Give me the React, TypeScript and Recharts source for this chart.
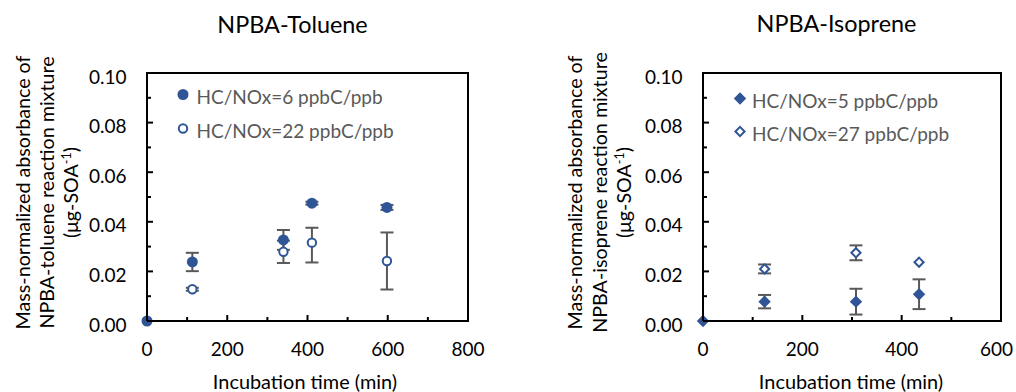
import React from 'react';
import { ScatterChart, Scatter, XAxis, YAxis, ErrorBar, ReferenceArea, Legend } from 'recharts';

const FONT = 'Lato, "Open Sans", sans-serif';
const BLUE = '#2F5597';
const GRAY = '#595959';

// ---- Data ----
// NPBA-Toluene, HC/NOx = 6 ppbC/ppb (filled circles)
const tolTime6 = [0, 113, 340, 411, 598];
const tolAbs6 = [0, 0.0238, 0.0327, 0.0475, 0.0458];
const tolErr6: (number | number[] | null)[] = [null, 0.0037, 0.004, 0.0006, 0.001];
// NPBA-Toluene, HC/NOx = 22 ppbC/ppb (open circles)
const tolTime22 = [113, 340, 411, 598];
const tolAbs22 = [0.0128, 0.0279, 0.0316, 0.0242];
const tolErr22: (number | number[] | null)[] = [0.0006, 0.0045, [0.008, 0.006], 0.0115];
// NPBA-Isoprene, HC/NOx = 5 ppbC/ppb (filled diamonds)
const isoTime5 = [0, 124, 308, 435];
const isoAbs5 = [0, 0.0078, 0.0078, 0.0108];
const isoErr5: (number | number[] | null)[] = [null, 0.0027, 0.0052, 0.006];
// NPBA-Isoprene, HC/NOx = 27 ppbC/ppb (open diamonds)
const isoTime27 = [124, 308, 435];
const isoAbs27 = [0.021, 0.0275, 0.0237];
const isoErr27: (number | number[] | null)[] = [0.0018, 0.003, null];

const tolXTicks = [0, 100, 200, 300, 400, 500, 600, 700, 800];
const isoXTicks = [0, 100, 200, 300, 400, 500, 600];
const yTicks = [0, 0.01, 0.02, 0.03, 0.04, 0.05, 0.06, 0.07, 0.08, 0.09, 0.1];

const tolName6 = 'HC/NOx=6 ppbC/ppb';
const tolName22 = 'HC/NOx=22 ppbC/ppb';
const isoName5 = 'HC/NOx=5 ppbC/ppb';
const isoName27 = 'HC/NOx=27 ppbC/ppb';

const build = (t: number[], v: number[], e: any[]) =>
  t.map((time, i) => ({ time, abs: v[i], err: e[i] }));

const tol6 = build(tolTime6, tolAbs6, tolErr6);
const tol22 = build(tolTime22, tolAbs22, tolErr22);
const iso5 = build(isoTime5, isoAbs5, isoErr5);
const iso27 = build(isoTime27, isoAbs27, isoErr27);

type Kind = 'circle' | 'ocircle' | 'diamond' | 'odiamond';

const Marker = ({ kind, cx, cy }: { kind: Kind; cx: number; cy: number }) => {
  if (cx == null || cy == null || isNaN(cx) || isNaN(cy)) return null;
  switch (kind) {
    case 'circle':
      return <circle cx={cx} cy={cy} r={5.5} fill={BLUE} />;
    case 'ocircle':
      return <circle cx={cx} cy={cy} r={4.2} fill="#fff" stroke={BLUE} strokeWidth={2} />;
    case 'diamond': {
      const d = 6.2;
      return <path d={`M${cx},${cy - d}L${cx + d},${cy}L${cx},${cy + d}L${cx - d},${cy}Z`} fill={BLUE} />;
    }
    default: {
      const d = 4.6;
      return (
        <path
          d={`M${cx},${cy - d}L${cx + d},${cy}L${cx},${cy + d}L${cx - d},${cy}Z`}
          fill="#fff"
          stroke={BLUE}
          strokeWidth={2}
        />
      );
    }
  }
};

const shapeOf = (kind: Kind) => (p: any) => <Marker kind={kind} cx={p.cx} cy={p.cy} />;

const makeXTick = (majorStep: number, maxRight: number) => (p: any) => {
  const { x, y, payload } = p;
  const v = payload.value;
  const major = v % majorStep === 0;
  const overflow = x + 16 > maxRight;
  return (
    <g>
      <line x1={x} x2={x} y1={y} y2={y - (major ? 6 : 4)} stroke="#000" strokeWidth={2} />
      {major && (
        <text
          x={overflow ? maxRight : x}
          y={y + 35}
          textAnchor={overflow ? 'end' : 'middle'}
          fontFamily={FONT}
          fontSize={19}
          fill="#000"
        >
          {v}
        </text>
      )}
    </g>
  );
};

const YTick = (p: any) => {
  const { x, y, payload } = p;
  const v = payload.value;
  const major = Math.round(v * 100) % 2 === 0;
  return (
    <g>
      <line x1={x} x2={x + (major ? 6 : 4)} y1={y} y2={y} stroke="#000" strokeWidth={2} />
      {major && (
        <text x={x - 20.5} y={y + 10.5} textAnchor="end" fontFamily={FONT} fontSize={19} fill="#000">
          {v.toFixed(2)}
        </text>
      )}
    </g>
  );
};

const makeLegend = (order: string[], kinds: Kind[], gap: number, rowStep: number) => (props: any) => {
  const payload = (props.payload || []).slice().sort(
    (a: any, b: any) => order.indexOf(a.value) - order.indexOf(b.value)
  );
  return (
    <svg width={260} height={60} style={{ display: 'block', overflow: 'visible' }}>
      {payload.map((item: any, i: number) => (
        <g key={i}>
          <Marker kind={kinds[order.indexOf(item.value)]} cx={8} cy={10.5 + i * rowStep} />
          <text x={8 + gap} y={20 + i * rowStep} fontFamily={FONT} fontSize={19} fill={GRAY}>
            {item.value}
          </text>
        </g>
      ))}
    </svg>
  );
};

const YLabel = ({ xs, cy, line2 }: { xs: number[]; cy: number; line2: string }) => (
  <g fontFamily={FONT} fontSize={19.7} fill="#000" textAnchor="middle">
    <text x={xs[0]} y={cy} transform={`rotate(-90 ${xs[0]} ${cy})`}>
      Mass-normalized absorbance of
    </text>
    <text x={xs[1]} y={cy} transform={`rotate(-90 ${xs[1]} ${cy})`}>
      {line2}
    </text>
    <text x={xs[2]} y={cy} transform={`rotate(-90 ${xs[2]} ${cy})`}>
      (μg-SOA
      <tspan dy={-7} fontSize={12.5}>
        -1
      </tspan>
      <tspan dy={7}>)</tspan>
    </text>
  </g>
);

export default function App() {
  const errProps = { direction: 'y' as const, stroke: GRAY, strokeWidth: 2, width: 6.5, isAnimationActive: false };
  return (
    <div style={{ position: 'absolute', left: 0, top: 0, width: 1016, height: 392, background: '#fff' }}>
      <div style={{ position: 'absolute', left: 0, top: 0 }}>
        <ScatterChart width={500} height={392} margin={{ top: 73, right: 32, bottom: 0, left: 0 }}>
          <XAxis
            type="number"
            dataKey="time"
            domain={[0, 800]}
            ticks={tolXTicks}
            interval={0}
            height={71}
            axisLine={false}
            tickLine={false}
            tickSize={0}
            tickMargin={0}
            tick={makeXTick(200, 500)}
          />
          <YAxis
            type="number"
            dataKey="abs"
            domain={[0, 0.1]}
            ticks={yTicks}
            interval={0}
            width={147}
            axisLine={false}
            tickLine={false}
            tickSize={0}
            tickMargin={0}
            tick={YTick}
          />
          <ReferenceArea x1={0} x2={800} y1={0} y2={0.1} fill="none" fillOpacity={0} stroke="#000" strokeWidth={2} />
          <Legend
            layout="vertical"
            align="center"
            verticalAlign="middle"
            wrapperStyle={{ left: 175, top: 84, width: 260 }}
            content={makeLegend([tolName6, tolName22], ['circle', 'ocircle'], 13.5, 34)}
          />
          <Scatter name={tolName6} data={tol6} fill={BLUE} shape={shapeOf('circle')} isAnimationActive={false}>
            <ErrorBar dataKey="err" {...errProps} />
          </Scatter>
          <Scatter name={tolName22} data={tol22} fill={BLUE} shape={shapeOf('ocircle')} isAnimationActive={false}>
            <ErrorBar dataKey="err" {...errProps} />
          </Scatter>
        </ScatterChart>
      </div>
      <div style={{ position: 'absolute', left: 500, top: 0 }}>
        <ScatterChart width={516} height={392} margin={{ top: 73, right: 15, bottom: 0, left: 0 }}>
          <XAxis
            type="number"
            dataKey="time"
            domain={[0, 600]}
            ticks={isoXTicks}
            interval={0}
            height={71}
            axisLine={false}
            tickLine={false}
            tickSize={0}
            tickMargin={0}
            tick={makeXTick(200, 513)}
          />
          <YAxis
            type="number"
            dataKey="abs"
            domain={[0, 0.1]}
            ticks={yTicks}
            interval={0}
            width={203}
            axisLine={false}
            tickLine={false}
            tickSize={0}
            tickMargin={0}
            tick={YTick}
          />
          <ReferenceArea x1={0} x2={600} y1={0} y2={0.1} fill="none" fillOpacity={0} stroke="#000" strokeWidth={2} />
          <Legend
            layout="vertical"
            align="center"
            verticalAlign="middle"
            wrapperStyle={{ left: 232, top: 88, width: 260 }}
            content={makeLegend([isoName5, isoName27], ['diamond', 'odiamond'], 12, 33)}
          />
          <Scatter name={isoName5} data={iso5} fill={BLUE} shape={shapeOf('diamond')} isAnimationActive={false}>
            <ErrorBar dataKey="err" {...errProps} />
          </Scatter>
          <Scatter name={isoName27} data={iso27} fill={BLUE} shape={shapeOf('odiamond')} isAnimationActive={false}>
            <ErrorBar dataKey="err" {...errProps} />
          </Scatter>
        </ScatterChart>
      </div>
      <svg width={1016} height={392} style={{ position: 'absolute', left: 0, top: 0, pointerEvents: 'none' }}>
        <g fontFamily={FONT} fill="#000" textAnchor="middle">
          <text x={292.5} y={33} fontSize={23.4}>NPBA-Toluene</text>
          <text x={836.5} y={32} fontSize={23.4}>NPBA-Isoprene</text>
          <text x={305} y={388.5} fontSize={19.9}>Incubation time (min)</text>
          <text x={851} y={389} fontSize={19.9}>Incubation time (min)</text>
        </g>
        <YLabel xs={[29.5, 53.5, 78.3]} cy={192.5} line2="NPBA-toluene reaction mixture" />
        <YLabel xs={[581.7, 606.5, 631]} cy={192.5} line2="NPBA-isoprene reaction mixture" />
      </svg>
    </div>
  );
}
